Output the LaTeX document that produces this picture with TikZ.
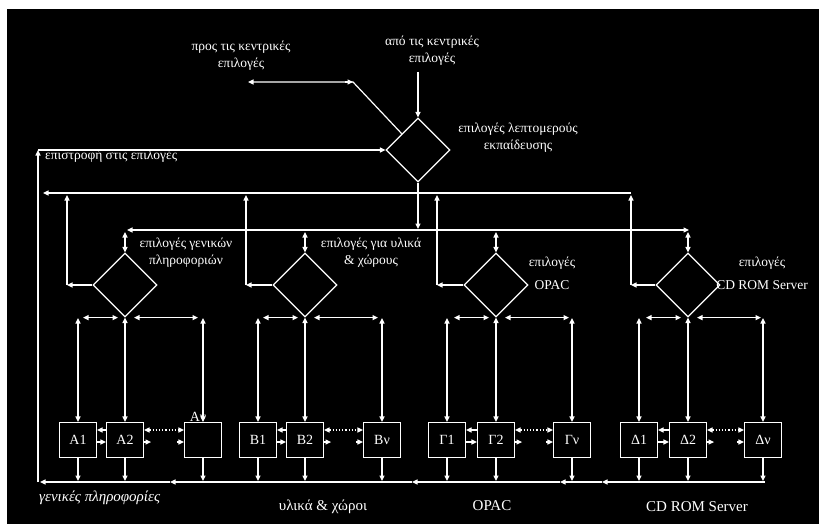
\documentclass[tikz,border=0pt]{standalone}
\usepackage{fontspec}
\setmainfont{Liberation Serif}
\usetikzlibrary{arrows.meta,shapes.geometric,calc}
\begin{document}
\begin{tikzpicture}[x=1pt,y=-1pt,
  ln/.style={draw=white,line width=1.2pt},
  ar/.style={ln,-{Triangle[length=5.5pt,width=5pt]}},
  dar/.style={ln,{Triangle[length=5.5pt,width=5pt]}-{Triangle[length=5.5pt,width=5pt]}},
  dia/.style={shape=diamond,draw=white,line width=1.2pt,minimum width=64pt,minimum height=64pt,inner sep=0pt},
  bx/.style={draw=white,line width=1.2pt,minimum width=37pt,minimum height=35pt,inner sep=0pt,text=white,font=\fontsize{14}{16}\selectfont},
  lbl/.style={text=white,align=center,inner sep=0pt,font=\fontsize{13.5}{17}\selectfont},
  blbl/.style={text=white,inner sep=0pt,font=\fontsize{15}{17}\selectfont}]

\useasboundingbox (0,0) rectangle (819,524);
\fill[white] (0,0) rectangle (819,524);
\fill[black] (7,9) rectangle (819,524);

% diamonds
\node[dia] (D0) at (418,150) {};
\node[dia] (DA) at (125,285) {};
\node[dia] (DB) at (305,285) {};
\node[dia] (DC) at (496,285) {};
\node[dia] (DD) at (688,285) {};

% boxes
\node[bx] (A1) at (78,440) {A1};
\node[bx] (A2) at (125,440) {A2};
\node[bx] (A3) at (203,440) {};
\node[bx] (B1) at (258,440) {B1};
\node[bx] (B2) at (305,440) {B2};
\node[bx] (B3) at (382,440) {Bν};
\node[bx] (C1) at (447,440) {Γ1};
\node[bx] (C2) at (496,440) {Γ2};
\node[bx] (C3) at (572,440) {Γν};
\node[bx] (E1) at (639,440) {Δ1};
\node[bx] (E2) at (688,440) {Δ2};
\node[bx] (E3) at (763,440) {Δν};
\node[text=white,inner sep=0pt,font=\fontsize{14}{16}\selectfont] (A3l) at (198,417) {Aν};

% top labels
\node[lbl] (tp1) at (241,56) {προς τις κεντρικές\\επιλογές};
\node[lbl] (tp2) at (432,51) {από τις κεντρικές\\επιλογές};
\node[lbl] (tp3) at (518,138) {επιλογές λεπτομερούς\\εκπαίδευσης};
\node[lbl,anchor=base west] (ret) at (45,160) {επιστροφή στις επιλογές};

% top connectors
\coordinate (in0) at (418,72);
\draw[ar] (in0) -- (D0.north);
\coordinate (pk) at (353,82);
\coordinate (pl) at (248,82);
\draw[ar] (D0.north west) -- (pk) -- (pl);
\draw[ar] (345,82) -- (pk);

% return line
\coordinate (r1) at (38,482);
\coordinate (r2) at (38,150);
\draw[ar] (r1) -- (r2);
\draw[ar] (r2) -- (D0.west);

% bus at 193
\coordinate (b1r) at (631,193);
\coordinate (b1l) at (43,193);
\draw[ar] (b1r) -- (b1l);
\foreach \d/\x in {DA/67,DB/246,DC/437,DD/631}{
  \draw[ar] (\d.west) -- (\x,285);
  \draw[ar] (\x,285) -- (\x,195);
}

% bus at 230
\coordinate (b2c) at (418,230);
\draw[ar] (D0.south) -- (418,229);
\draw[ar] (b2c) -- (127,230);
\draw[ar] (b2c) -- (689,230);
\foreach \d in {DA,DB,DC,DD}{
  \draw[dar] (\d.north |- 0,232) -- (\d.north);
}

% diamond labels
\node[lbl] at (186,253) {επιλογές γενικών\\πληροφοριών};
\node[lbl] at (371,253) {επιλογές για υλικά\\\& χώρους};
\node[lbl] at (552,273) {επιλογές\\[6pt]OPAC};
\node[lbl] at (762,273) {επιλογές\\[6pt]CD ROM Server};

% lower level
\foreach \d/\l/\m/\r in {DA/A1/A2/A3,DB/B1/B2/B3,DC/C1/C2/C3,DD/E1/E2/E3}{
  \draw[dar] ($(\d.south)+(-42,0)$) -- ($(\d.south)+(-7,0)$);
  \draw[dar] ($(\d.south)+(9,0)$) -- ($(\d.south)+(73,0)$);
  \draw[dar] (\l.north |- 0,318) -- (\l.north);
  \draw[dar] (\d.south) -- (\m.north);
  \draw[dar] (\r.north |- 0,318) -- (\r.north);
  % between boxes
  \draw[ar] ($(\m.west)+(0,-10)$) -- ($(\l.east)+(0,-10)$);
  \draw[ar] ($(\l.east)+(0,2)$) -- ($(\m.west)+(0,2)$);
  \draw[dar,dotted] ($(\m.east)+(0,-10)$) -- ($(\r.west)+(0,-10)$);
  \draw[ar] ($(\m.east)+(0,2)$) -- ($(\m.east)+(7,2)$);
  \draw[ar] ($(\r.west)+(-7,2)$) -- ($(\r.west)+(0,2)$);
  % down to bottom bus
  \draw[ar] (\l.south) -- (\l.south |- 0,481);
  \draw[ar] (\m.south) -- (\m.south |- 0,481);
  \draw[ar] (\r.south) -- (\r.south |- 0,481);
}

% bottom bus
\draw[ar] (765,482) -- (602,482);
\draw[ar] (602,482) -- (560,482);
\draw[ar] (560,482) -- (412,482);
\draw[ar] (412,482) -- (170,482);
\draw[ar] (170,482) -- (40,482);

% bottom labels
\node[blbl,font=\fontsize{15}{17}\selectfont\itshape,anchor=west] (lg) at (39,498) {γενικές πληροφορίες};
\node[blbl] (lu) at (323,507) {υλικά \& χώροι};
\node[blbl] (lo) at (492,506) {OPAC};
\node[blbl] (lc) at (697,507) {CD ROM Server};
\end{tikzpicture}
\end{document}
